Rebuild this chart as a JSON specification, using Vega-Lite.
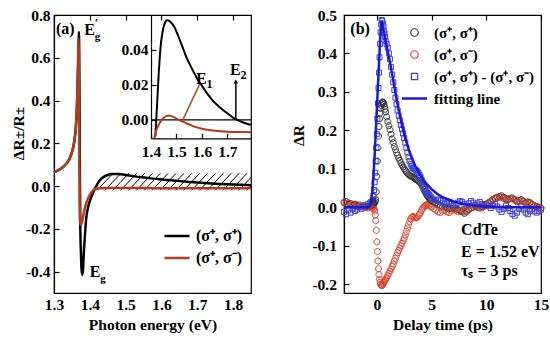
{
  "$schema": "https://vega.github.io/schema/vega-lite/v6.json",
  "background": "white",
  "padding": {"left": 10, "top": 7, "right": 2, "bottom": 2},
  "bounds": "flush",
  "spacing": 93,
  "resolve": {"scale": {"color": "independent", "shape": "independent"}, "legend": {"color": "independent", "shape": "independent"}},
  "config": {
    "view": {"stroke": "black", "strokeWidth": 1.2},
    "axis": {"labelFont": "Liberation Serif", "labelFontWeight": "bold", "labelFontSize": 15.5, "labelColor": "black", "titleFont": "Liberation Serif", "titleFontWeight": "bold", "titleFontSize": 15.5, "titleColor": "black", "domainColor": "black", "domainWidth": 1.2, "tickColor": "black", "tickWidth": 1.2, "ticks": false, "grid": true, "gridColor": "black", "gridOpacity": 1, "gridWidth": 1.2, "gridDash": [5, 2000], "labelFlush": false, "labelOverlap": false},
    "legend": {"labelFont": "Liberation Serif", "labelFontWeight": "bold", "labelColor": "black", "labelLimit": 300},
    "text": {"font": "Liberation Serif", "fontWeight": "bold", "fontSize": 16, "color": "black", "align": "left", "baseline": "alphabetic"}
  },
  "hconcat": [
    {
      "width": 197,
      "height": 278,
      "layer": [
        {
          "encoding": {
            "x": {"field": "x", "type": "quantitative", "scale": {"domain": [1.3, 1.85], "nice": false, "zero": false},
              "axis": {"values": [1.3, 1.4, 1.5, 1.6, 1.7, 1.8], "format": ".1f", "title": "Photon energy (eV)", "labelPadding": 4, "titleX": 98.5, "titleY": 24, "titleBaseline": "top"}},
            "y": {"field": "y", "type": "quantitative", "scale": {"domain": [-0.5, 0.8], "nice": false, "zero": false},
              "axis": {"values": [-0.4, -0.2, 0, 0.2, 0.4, 0.6, 0.8], "format": ".1f", "labelExpr": "replace(datum.label, '−', '-')", "title": "ΔR±/R±", "labelPadding": 4, "titleX": -28, "titleY": 118}}
          },
          "layer": [
            {
              "data": {"values": [
                {"x": 1.42, "x2": 1.465, "y": -0.02, "y2": 0.06},
                {"x": 1.442, "x2": 1.487, "y": -0.02, "y2": 0.06},
                {"x": 1.464, "x2": 1.509, "y": -0.02, "y2": 0.06},
                {"x": 1.486, "x2": 1.531, "y": -0.02, "y2": 0.06},
                {"x": 1.508, "x2": 1.553, "y": -0.02, "y2": 0.06},
                {"x": 1.53, "x2": 1.575, "y": -0.02, "y2": 0.06},
                {"x": 1.552, "x2": 1.597, "y": -0.02, "y2": 0.06},
                {"x": 1.574, "x2": 1.619, "y": -0.02, "y2": 0.06},
                {"x": 1.596, "x2": 1.641, "y": -0.02, "y2": 0.06},
                {"x": 1.618, "x2": 1.663, "y": -0.02, "y2": 0.06},
                {"x": 1.64, "x2": 1.685, "y": -0.02, "y2": 0.06},
                {"x": 1.662, "x2": 1.707, "y": -0.02, "y2": 0.06},
                {"x": 1.684, "x2": 1.729, "y": -0.02, "y2": 0.06},
                {"x": 1.706, "x2": 1.751, "y": -0.02, "y2": 0.06},
                {"x": 1.728, "x2": 1.773, "y": -0.02, "y2": 0.06},
                {"x": 1.75, "x2": 1.795, "y": -0.02, "y2": 0.06},
                {"x": 1.772, "x2": 1.817, "y": -0.02, "y2": 0.06},
                {"x": 1.794, "x2": 1.839, "y": -0.02, "y2": 0.06},
                {"x": 1.816, "x2": 1.861, "y": -0.02, "y2": 0.06},
                {"x": 1.838, "x2": 1.883, "y": -0.02, "y2": 0.06}
              ]},
              "mark": {"type": "rule", "color": "black", "strokeWidth": 1, "clip": true},
              "encoding": {"x2": {"field": "x2"}, "y2": {"field": "y2"}}
            },
            {
              "data": {"values": [
                {"s": "pp", "x": 1.3, "y": 0.065}, {"s": "pp", "x": 1.31, "y": 0.072}, {"s": "pp", "x": 1.32, "y": 0.082}, {"s": "pp", "x": 1.33, "y": 0.097}, {"s": "pp", "x": 1.34, "y": 0.118}, {"s": "pp", "x": 1.345, "y": 0.135}, {"s": "pp", "x": 1.35, "y": 0.158}, {"s": "pp", "x": 1.354, "y": 0.185}, {"s": "pp", "x": 1.358, "y": 0.225}, {"s": "pp", "x": 1.361, "y": 0.275}, {"s": "pp", "x": 1.363, "y": 0.33}, {"s": "pp", "x": 1.365, "y": 0.42}, {"s": "pp", "x": 1.367, "y": 0.55}, {"s": "pp", "x": 1.3685, "y": 0.66}, {"s": "pp", "x": 1.3695, "y": 0.72}, {"s": "pp", "x": 1.3705, "y": 0.6}, {"s": "pp", "x": 1.3715, "y": 0.3}, {"s": "pp", "x": 1.3725, "y": 0.0}, {"s": "pp", "x": 1.3735, "y": -0.2}, {"s": "pp", "x": 1.375, "y": -0.3}, {"s": "pp", "x": 1.377, "y": -0.39}, {"s": "pp", "x": 1.379, "y": -0.415}, {"s": "pp", "x": 1.381, "y": -0.39}, {"s": "pp", "x": 1.383, "y": -0.32}, {"s": "pp", "x": 1.386, "y": -0.24}, {"s": "pp", "x": 1.39, "y": -0.15}, {"s": "pp", "x": 1.395, "y": -0.1}, {"s": "pp", "x": 1.4, "y": -0.07}, {"s": "pp", "x": 1.405, "y": -0.047}, {"s": "pp", "x": 1.41, "y": -0.028}, {"s": "pp", "x": 1.415, "y": -0.01}, {"s": "pp", "x": 1.42, "y": 0.006}, {"s": "pp", "x": 1.425, "y": 0.02}, {"s": "pp", "x": 1.43, "y": 0.031}, {"s": "pp", "x": 1.44, "y": 0.044}, {"s": "pp", "x": 1.45, "y": 0.052}, {"s": "pp", "x": 1.46, "y": 0.056}, {"s": "pp", "x": 1.47, "y": 0.057}, {"s": "pp", "x": 1.48, "y": 0.056}, {"s": "pp", "x": 1.5, "y": 0.052}, {"s": "pp", "x": 1.52, "y": 0.047}, {"s": "pp", "x": 1.54, "y": 0.042}, {"s": "pp", "x": 1.57, "y": 0.036}, {"s": "pp", "x": 1.6, "y": 0.031}, {"s": "pp", "x": 1.64, "y": 0.025}, {"s": "pp", "x": 1.68, "y": 0.019}, {"s": "pp", "x": 1.72, "y": 0.014}, {"s": "pp", "x": 1.76, "y": 0.01}, {"s": "pp", "x": 1.8, "y": 0.007}, {"s": "pp", "x": 1.85, "y": 0.004},
                {"s": "pm", "x": 1.3, "y": 0.065}, {"s": "pm", "x": 1.31, "y": 0.072}, {"s": "pm", "x": 1.32, "y": 0.082}, {"s": "pm", "x": 1.33, "y": 0.097}, {"s": "pm", "x": 1.34, "y": 0.118}, {"s": "pm", "x": 1.345, "y": 0.135}, {"s": "pm", "x": 1.35, "y": 0.158}, {"s": "pm", "x": 1.354, "y": 0.185}, {"s": "pm", "x": 1.358, "y": 0.225}, {"s": "pm", "x": 1.361, "y": 0.275}, {"s": "pm", "x": 1.363, "y": 0.33}, {"s": "pm", "x": 1.365, "y": 0.42}, {"s": "pm", "x": 1.367, "y": 0.55}, {"s": "pm", "x": 1.3685, "y": 0.69}, {"s": "pm", "x": 1.3695, "y": 0.55}, {"s": "pm", "x": 1.3705, "y": 0.25}, {"s": "pm", "x": 1.3715, "y": -0.05}, {"s": "pm", "x": 1.3725, "y": -0.16}, {"s": "pm", "x": 1.374, "y": -0.18}, {"s": "pm", "x": 1.376, "y": -0.178}, {"s": "pm", "x": 1.379, "y": -0.16}, {"s": "pm", "x": 1.382, "y": -0.135}, {"s": "pm", "x": 1.386, "y": -0.105}, {"s": "pm", "x": 1.39, "y": -0.08}, {"s": "pm", "x": 1.395, "y": -0.058}, {"s": "pm", "x": 1.4, "y": -0.041}, {"s": "pm", "x": 1.405, "y": -0.028}, {"s": "pm", "x": 1.41, "y": -0.019}, {"s": "pm", "x": 1.415, "y": -0.013}, {"s": "pm", "x": 1.42, "y": -0.011}, {"s": "pm", "x": 1.43, "y": -0.01}, {"s": "pm", "x": 1.45, "y": -0.009}, {"s": "pm", "x": 1.5, "y": -0.009}, {"s": "pm", "x": 1.6, "y": -0.01}, {"s": "pm", "x": 1.7, "y": -0.01}, {"s": "pm", "x": 1.85, "y": -0.01}
              ]},
              "mark": {"type": "line", "strokeWidth": 2.5, "interpolate": "monotone"},
              "encoding": {
                "color": {"field": "s", "type": "nominal", "sort": null,
                  "scale": {"domain": ["pp", "pm"], "range": ["black", "#b33c1c"]},
                  "legend": {"title": null, "orient": "none", "legendX": 109, "legendY": 207, "padding": 0, "symbolType": "stroke", "symbolSize": 625, "symbolStrokeWidth": 2.5, "labelOffset": 5, "rowPadding": -2, "labelFontSize": 16,
                    "labelExpr": "datum.label == 'pp' ? '(σ⁺, σ⁺)' : '(σ⁺, σ⁻)'"}}
              }
            },
            {
              "data": {"values": [
                {"x": 1.3056, "y": 0.711, "label": "(a)"},
                {"x": 1.3844, "y": 0.7065, "label": "E"},
                {"x": 1.4, "y": -0.424, "label": "E"}
              ]},
              "mark": {"type": "text"},
              "encoding": {"text": {"field": "label"}}
            },
            {
              "data": {"values": [
                {"x": 1.3844, "y": 0.7065, "label": "g"},
                {"x": 1.4, "y": -0.424, "label": "g"}
              ]},
              "mark": {"type": "text", "fontSize": 11, "dx": 10.5, "dy": 5},
              "encoding": {"text": {"field": "label"}}
            },
            {
              "data": {"values": [
                {"x": 1.3844, "y": 0.7065, "label": "′"}
              ]},
              "mark": {"type": "text", "fontSize": 12, "dx": 10.5, "dy": -8},
              "encoding": {"text": {"field": "label"}}
            }
          ]
        },
        {
          "encoding": {
            "x": {"field": "x", "type": "quantitative", "scale": {"domain": [1.4, 1.7925], "range": [97, 197], "nice": false, "zero": false},
              "axis": {"orient": "bottom", "offset": -154.7, "values": [1.4, 1.5, 1.6, 1.7], "format": ".1f", "title": null, "grid": false, "ticks": true, "tickSize": -5, "labelPadding": 11.5}},
            "y": {"field": "y", "type": "quantitative", "scale": {"domain": [-0.0105, 0.06], "range": [123.3, 0], "nice": false, "zero": false},
              "axis": {"orient": "left", "offset": -97, "values": [0, 0.02, 0.04], "format": ".2f", "title": null, "grid": false, "ticks": true, "tickSize": -5, "labelPadding": 8}}
          },
          "layer": [
            {
              "data": {"values": [{"x": 1.4, "x2": 1.7925, "y": 0}]},
              "mark": {"type": "rule", "color": "black", "strokeWidth": 1.2},
              "encoding": {"x2": {"field": "x2"}}
            },
            {
              "data": {"values": [
                {"s": "pp", "x": 1.417, "y": -0.0095}, {"s": "pp", "x": 1.42, "y": -0.002}, {"s": "pp", "x": 1.425, "y": 0.012}, {"s": "pp", "x": 1.43, "y": 0.026}, {"s": "pp", "x": 1.435, "y": 0.037}, {"s": "pp", "x": 1.44, "y": 0.045}, {"s": "pp", "x": 1.445, "y": 0.05}, {"s": "pp", "x": 1.45, "y": 0.0535}, {"s": "pp", "x": 1.455, "y": 0.0555}, {"s": "pp", "x": 1.46, "y": 0.0568}, {"s": "pp", "x": 1.465, "y": 0.057}, {"s": "pp", "x": 1.47, "y": 0.0568}, {"s": "pp", "x": 1.48, "y": 0.0555}, {"s": "pp", "x": 1.49, "y": 0.0535}, {"s": "pp", "x": 1.5, "y": 0.0505}, {"s": "pp", "x": 1.52, "y": 0.043}, {"s": "pp", "x": 1.54, "y": 0.0355}, {"s": "pp", "x": 1.56, "y": 0.0295}, {"s": "pp", "x": 1.58, "y": 0.024}, {"s": "pp", "x": 1.6, "y": 0.0195}, {"s": "pp", "x": 1.62, "y": 0.0152}, {"s": "pp", "x": 1.64, "y": 0.0115}, {"s": "pp", "x": 1.66, "y": 0.0085}, {"s": "pp", "x": 1.68, "y": 0.006}, {"s": "pp", "x": 1.7, "y": 0.0038}, {"s": "pp", "x": 1.72, "y": 0.0015}, {"s": "pp", "x": 1.74, "y": -0.0001}, {"s": "pp", "x": 1.76, "y": -0.0013}, {"s": "pp", "x": 1.78, "y": -0.0023}, {"s": "pp", "x": 1.7925, "y": -0.0028},
                {"s": "pm", "x": 1.413, "y": -0.0104}, {"s": "pm", "x": 1.42, "y": -0.0065}, {"s": "pm", "x": 1.43, "y": -0.0029}, {"s": "pm", "x": 1.44, "y": -0.0003}, {"s": "pm", "x": 1.45, "y": 0.0013}, {"s": "pm", "x": 1.46, "y": 0.0022}, {"s": "pm", "x": 1.47, "y": 0.0025}, {"s": "pm", "x": 1.48, "y": 0.0022}, {"s": "pm", "x": 1.49, "y": 0.0016}, {"s": "pm", "x": 1.5, "y": 0.0008}, {"s": "pm", "x": 1.51, "y": 0.0}, {"s": "pm", "x": 1.53, "y": -0.0013}, {"s": "pm", "x": 1.55, "y": -0.0026}, {"s": "pm", "x": 1.57, "y": -0.0038}, {"s": "pm", "x": 1.6, "y": -0.005}, {"s": "pm", "x": 1.63, "y": -0.0058}, {"s": "pm", "x": 1.66, "y": -0.0063}, {"s": "pm", "x": 1.7, "y": -0.0067}, {"s": "pm", "x": 1.75, "y": -0.0069}, {"s": "pm", "x": 1.7925, "y": -0.007}
              ]},
              "mark": {"type": "line", "strokeWidth": 2, "interpolate": "monotone"},
              "encoding": {
                "color": {"field": "s", "type": "nominal", "sort": null, "scale": {"domain": ["pp", "pm"], "range": ["black", "#b33c1c"]}, "legend": null}
              }
            },
            {
              "data": {"values": [{"x": 1.525, "y": 0, "x2": 1.591, "y2": 0.0205}]},
              "mark": {"type": "rule", "color": "#b5461e", "strokeWidth": 1.5},
              "encoding": {"x2": {"field": "x2"}, "y2": {"field": "y2"}}
            },
            {
              "data": {"values": [{"x": 1.733, "y": 0, "y2": 0.021}]},
              "mark": {"type": "rule", "color": "black", "strokeWidth": 1.5},
              "encoding": {"y2": {"field": "y2"}}
            },
            {
              "data": {"values": [{"x": 1.733, "y": 0.022}]},
              "mark": {"type": "point", "shape": "triangle-up", "filled": true, "color": "black", "size": 22, "opacity": 1},
              "encoding": {}
            },
            {
              "data": {"values": [
                {"x": 1.5767, "y": 0.0206, "label": "E"},
                {"x": 1.71, "y": 0.0255, "label": "E"}
              ]},
              "mark": {"type": "text"},
              "encoding": {"text": {"field": "label"}}
            },
            {
              "data": {"values": [
                {"x": 1.5767, "y": 0.0206, "label": "1"},
                {"x": 1.71, "y": 0.0255, "label": "2"}
              ]},
              "mark": {"type": "text", "fontSize": 12, "dx": 10.5, "dy": 4},
              "encoding": {"text": {"field": "label"}}
            }
          ]
        }
      ],
      "resolve": {"scale": {"x": "independent", "y": "independent"}}
    },
    {
      "width": 197,
      "height": 278,
      "encoding": {
        "x": {"field": "t", "type": "quantitative", "scale": {"domain": [-3, 15], "nice": false, "zero": false},
          "axis": {"values": [0, 5, 10, 15], "title": "Delay time (ps)", "labelPadding": 4, "titleX": 98.5, "titleY": 24, "titleBaseline": "top"}},
        "y": {"field": "value", "type": "quantitative", "scale": {"domain": [-0.223, 0.5], "nice": false, "zero": false},
          "axis": {"values": [-0.2, -0.1, 0, 0.1, 0.2, 0.3, 0.4, 0.5], "format": ".1f", "labelExpr": "replace(datum.label, '−', '-')", "title": "ΔR", "labelPadding": 7.5, "titleX": -38, "titleY": 120}}
      },
      "layer": [
        {
          "data": {"values": [
            {"t": -3.0, "a": 0.012, "b": 0.014, "d": -0.012},
            {"t": -2.8, "a": 0.015, "b": 0.01, "d": -0.018},
            {"t": -2.6, "a": 0.008, "b": 0.012, "d": -0.008},
            {"t": -2.4, "a": 0.01, "b": 0.006, "d": -0.014},
            {"t": -2.2, "a": 0.005, "b": 0.008, "d": -0.004},
            {"t": -2.0, "a": 0.008, "b": 0.004, "d": -0.01},
            {"t": -1.8, "a": 0.004, "b": 0.006, "d": -0.006},
            {"t": -1.6, "a": 0.006, "b": 0.002, "d": 0.0},
            {"t": -1.4, "a": 0.002, "b": 0.004, "d": -0.004},
            {"t": -1.2, "a": 0.004, "b": 0.0, "d": 0.004},
            {"t": -1.0, "a": 0.0, "b": 0.003, "d": 0.002},
            {"t": -0.8, "a": 0.002, "b": -0.002, "d": 0.008},
            {"t": -0.6, "a": 0.004, "b": 0.0, "d": 0.012},
            {"t": -0.5, "a": 0.004, "b": 0.0, "d": 0.014},
            {"t": -0.4, "a": 0.005, "b": 0.0, "d": 0.015},
            {"t": -0.35, "a": 0.006, "b": 0.0, "d": 0.02},
            {"t": -0.3, "a": 0.008, "b": -0.002, "d": 0.03},
            {"t": -0.25, "a": 0.01, "b": -0.005, "d": 0.045},
            {"t": -0.2, "a": 0.012, "b": -0.01, "d": 0.065},
            {"t": -0.15, "a": 0.015, "b": -0.02, "d": 0.09},
            {"t": -0.1, "a": 0.02, "b": -0.035, "d": 0.12},
            {"t": -0.05, "a": 0.04, "b": -0.06, "d": 0.155},
            {"t": 0.0, "a": 0.08, "b": -0.09, "d": 0.19},
            {"t": 0.05, "a": 0.12, "b": -0.115, "d": 0.23},
            {"t": 0.1, "a": 0.155, "b": -0.14, "d": 0.27},
            {"t": 0.15, "a": 0.185, "b": -0.16, "d": 0.31},
            {"t": 0.2, "a": 0.21, "b": -0.175, "d": 0.35},
            {"t": 0.25, "a": 0.23, "b": -0.187, "d": 0.39},
            {"t": 0.3, "a": 0.245, "b": -0.195, "d": 0.425},
            {"t": 0.35, "a": 0.257, "b": -0.2, "d": 0.455},
            {"t": 0.4, "a": 0.265, "b": -0.203, "d": 0.475},
            {"t": 0.45, "a": 0.27, "b": -0.204, "d": 0.487},
            {"t": 0.5, "a": 0.273, "b": -0.203, "d": 0.485},
            {"t": 0.55, "a": 0.274, "b": -0.2, "d": 0.478},
            {"t": 0.6, "a": 0.272, "b": -0.198, "d": 0.47},
            {"t": 0.65, "a": 0.268, "b": -0.195, "d": 0.46},
            {"t": 0.7, "a": 0.262, "b": -0.193, "d": 0.452},
            {"t": 0.75, "a": 0.255, "b": -0.19, "d": 0.443},
            {"t": 0.8, "a": 0.248, "b": -0.187, "d": 0.433},
            {"t": 0.9, "a": 0.235, "b": -0.183, "d": 0.425},
            {"t": 1.0, "a": 0.223, "b": -0.178, "d": 0.415},
            {"t": 1.1, "a": 0.212, "b": -0.172, "d": 0.4},
            {"t": 1.2, "a": 0.202, "b": -0.166, "d": 0.385},
            {"t": 1.3, "a": 0.19, "b": -0.16, "d": 0.365},
            {"t": 1.4, "a": 0.178, "b": -0.154, "d": 0.345},
            {"t": 1.5, "a": 0.168, "b": -0.148, "d": 0.325},
            {"t": 1.6, "a": 0.158, "b": -0.14, "d": 0.305},
            {"t": 1.7, "a": 0.15, "b": -0.133, "d": 0.285},
            {"t": 1.8, "a": 0.142, "b": -0.125, "d": 0.268},
            {"t": 1.9, "a": 0.135, "b": -0.118, "d": 0.252},
            {"t": 2.0, "a": 0.128, "b": -0.112, "d": 0.238},
            {"t": 2.1, "a": 0.122, "b": -0.106, "d": 0.226},
            {"t": 2.2, "a": 0.116, "b": -0.1, "d": 0.214},
            {"t": 2.3, "a": 0.11, "b": -0.094, "d": 0.203},
            {"t": 2.4, "a": 0.105, "b": -0.087, "d": 0.192},
            {"t": 2.5, "a": 0.1, "b": -0.08, "d": 0.18},
            {"t": 2.6, "a": 0.096, "b": -0.072, "d": 0.168},
            {"t": 2.7, "a": 0.092, "b": -0.063, "d": 0.155},
            {"t": 2.8, "a": 0.088, "b": -0.054, "d": 0.142},
            {"t": 2.9, "a": 0.085, "b": -0.045, "d": 0.13},
            {"t": 3.0, "a": 0.083, "b": -0.037, "d": 0.12},
            {"t": 3.1, "a": 0.081, "b": -0.03, "d": 0.112},
            {"t": 3.2, "a": 0.08, "b": -0.026, "d": 0.106},
            {"t": 3.3, "a": 0.078, "b": -0.024, "d": 0.102},
            {"t": 3.4, "a": 0.076, "b": -0.025, "d": 0.1},
            {"t": 3.5, "a": 0.074, "b": -0.027, "d": 0.098},
            {"t": 3.6, "a": 0.072, "b": -0.028, "d": 0.096},
            {"t": 3.7, "a": 0.07, "b": -0.026, "d": 0.093},
            {"t": 3.8, "a": 0.068, "b": -0.022, "d": 0.089},
            {"t": 3.9, "a": 0.066, "b": -0.018, "d": 0.084},
            {"t": 4.0, "a": 0.063, "b": -0.014, "d": 0.078},
            {"t": 4.1, "a": 0.058, "b": -0.008, "d": 0.07},
            {"t": 4.2, "a": 0.052, "b": -0.003, "d": 0.062},
            {"t": 4.3, "a": 0.046, "b": 0.001, "d": 0.055},
            {"t": 4.4, "a": 0.04, "b": 0.004, "d": 0.048},
            {"t": 4.5, "a": 0.035, "b": 0.006, "d": 0.042},
            {"t": 4.6, "a": 0.03, "b": 0.007, "d": 0.038},
            {"t": 4.7, "a": 0.026, "b": 0.006, "d": 0.035},
            {"t": 4.8, "a": 0.022, "b": 0.004, "d": 0.032},
            {"t": 4.9, "a": 0.019, "b": 0.002, "d": 0.028},
            {"t": 5.0, "a": 0.017, "b": 0.0, "d": 0.024},
            {"t": 5.2, "a": 0.014, "b": -0.004, "d": 0.02},
            {"t": 5.4, "a": 0.011, "b": -0.008, "d": 0.018},
            {"t": 5.6, "a": 0.008, "b": -0.012, "d": 0.02},
            {"t": 5.8, "a": 0.005, "b": -0.014, "d": 0.017},
            {"t": 6.0, "a": 0.002, "b": -0.01, "d": 0.012},
            {"t": 6.2, "a": 0.0, "b": -0.008, "d": 0.008},
            {"t": 6.4, "a": -0.002, "b": -0.012, "d": 0.012},
            {"t": 6.6, "a": -0.004, "b": -0.014, "d": 0.014},
            {"t": 6.8, "a": -0.003, "b": -0.01, "d": 0.01},
            {"t": 7.0, "a": -0.002, "b": -0.006, "d": 0.004},
            {"t": 7.2, "a": -0.004, "b": -0.008, "d": 0.006},
            {"t": 7.4, "a": -0.006, "b": -0.012, "d": 0.012},
            {"t": 7.6, "a": -0.008, "b": -0.01, "d": 0.016},
            {"t": 7.8, "a": -0.012, "b": -0.008, "d": 0.014},
            {"t": 8.0, "a": -0.016, "b": -0.012, "d": 0.008},
            {"t": 8.2, "a": -0.012, "b": -0.008, "d": 0.004},
            {"t": 8.4, "a": -0.006, "b": -0.004, "d": 0.01},
            {"t": 8.6, "a": -0.002, "b": -0.002, "d": 0.016},
            {"t": 8.8, "a": 0.0, "b": 0.0, "d": 0.012},
            {"t": 9.0, "a": 0.002, "b": 0.002, "d": 0.006},
            {"t": 9.2, "a": 0.0, "b": 0.004, "d": 0.01},
            {"t": 9.4, "a": -0.002, "b": 0.0, "d": 0.014},
            {"t": 9.6, "a": 0.002, "b": -0.002, "d": 0.008},
            {"t": 9.8, "a": 0.006, "b": 0.002, "d": 0.004},
            {"t": 10.0, "a": 0.008, "b": 0.006, "d": 0.008},
            {"t": 10.2, "a": 0.012, "b": 0.01, "d": 0.004},
            {"t": 10.4, "a": 0.016, "b": 0.014, "d": -0.002},
            {"t": 10.6, "a": 0.02, "b": 0.018, "d": 0.004},
            {"t": 10.8, "a": 0.024, "b": 0.022, "d": 0.008},
            {"t": 11.0, "a": 0.026, "b": 0.024, "d": 0.002},
            {"t": 11.2, "a": 0.028, "b": 0.026, "d": -0.006},
            {"t": 11.4, "a": 0.03, "b": 0.026, "d": -0.012},
            {"t": 11.6, "a": 0.026, "b": 0.022, "d": -0.004},
            {"t": 11.8, "a": 0.022, "b": 0.02, "d": 0.004},
            {"t": 12.0, "a": 0.02, "b": 0.022, "d": -0.002},
            {"t": 12.2, "a": 0.022, "b": 0.024, "d": -0.01},
            {"t": 12.4, "a": 0.024, "b": 0.022, "d": -0.018},
            {"t": 12.6, "a": 0.02, "b": 0.018, "d": -0.022},
            {"t": 12.8, "a": 0.016, "b": 0.014, "d": -0.014},
            {"t": 13.0, "a": 0.018, "b": 0.016, "d": -0.004},
            {"t": 13.2, "a": 0.02, "b": 0.018, "d": 0.002},
            {"t": 13.4, "a": 0.016, "b": 0.014, "d": -0.006},
            {"t": 13.6, "a": 0.012, "b": 0.01, "d": -0.014},
            {"t": 13.8, "a": 0.014, "b": 0.012, "d": -0.018},
            {"t": 14.0, "a": 0.012, "b": 0.01, "d": -0.01},
            {"t": 14.2, "a": 0.008, "b": 0.006, "d": -0.004},
            {"t": 14.4, "a": 0.004, "b": 0.004, "d": -0.01},
            {"t": 14.6, "a": 0.002, "b": 0.0, "d": -0.014},
            {"t": 14.8, "a": 0.0, "b": -0.002, "d": -0.01},
            {"t": 15.0, "a": -0.002, "b": -0.002, "d": -0.006}
          ]},
          "transform": [{"fold": ["a", "b", "d"]}],
          "mark": {"type": "point", "filled": false, "strokeWidth": 1, "size": 400, "opacity": 1},
          "encoding": {
            "color": {"field": "key", "type": "nominal", "sort": null,
              "scale": {"domain": ["a", "b", "d", "fit"], "range": ["#333333", "#d9432b", "#3c3ce0", "#1818d8"]},
              "legend": {"title": null, "orient": "none", "legendX": 57, "legendY": 4, "padding": 0, "symbolSize": 625, "symbolStrokeWidth": 1.2, "labelOffset": 6, "rowPadding": -3, "labelFontSize": 15,
                "labelExpr": "datum.label == 'a' ? '(σ⁺, σ⁺)' : datum.label == 'b' ? '(σ⁺, σ⁻)' : datum.label == 'd' ? '(σ⁺, σ⁺) - (σ⁺, σ⁻)' : 'fitting line'"}},
            "shape": {"field": "key", "type": "nominal", "sort": null,
              "scale": {"domain": ["a", "b", "d", "fit"], "range": ["M0.3,0A0.3,0.3 0 1,1 -0.3,0A0.3,0.3 0 1,1 0.3,0Z", "M0.3,0A0.3,0.3 0 1,1 -0.3,0A0.3,0.3 0 1,1 0.3,0Z", "M-0.25,-0.25H0.25V0.25H-0.25Z", "M-1,-0.05H1M-1,0H1M-1,0.05H1"]},
              "legend": {"title": null, "orient": "none", "legendX": 57, "legendY": 4, "padding": 0, "symbolSize": 625, "symbolStrokeWidth": 1.2, "labelOffset": 6, "rowPadding": -3, "labelFontSize": 15,
                "labelExpr": "datum.label == 'a' ? '(σ⁺, σ⁺)' : datum.label == 'b' ? '(σ⁺, σ⁻)' : datum.label == 'd' ? '(σ⁺, σ⁺) - (σ⁺, σ⁻)' : 'fitting line'"}}
          }
        },
        {
          "data": {"values": [
            {"t": -3.0, "value": 0.0}, {"t": -2.0, "value": 0.0}, {"t": -1.0, "value": 0.0}, {"t": -0.7, "value": 0.0}, {"t": -0.6, "value": 0.006}, {"t": -0.5, "value": 0.02}, {"t": -0.4, "value": 0.045}, {"t": -0.3, "value": 0.085}, {"t": -0.2, "value": 0.135}, {"t": -0.1, "value": 0.195}, {"t": 0.0, "value": 0.255}, {"t": 0.1, "value": 0.315}, {"t": 0.2, "value": 0.375}, {"t": 0.3, "value": 0.435}, {"t": 0.4, "value": 0.485}, {"t": 0.5, "value": 0.478}, {"t": 0.6, "value": 0.462}, {"t": 0.8, "value": 0.432}, {"t": 1.0, "value": 0.405}, {"t": 1.25, "value": 0.37}, {"t": 1.5, "value": 0.33}, {"t": 1.75, "value": 0.29}, {"t": 2.0, "value": 0.252}, {"t": 2.25, "value": 0.22}, {"t": 2.5, "value": 0.19}, {"t": 2.75, "value": 0.165}, {"t": 3.0, "value": 0.143}, {"t": 3.5, "value": 0.108}, {"t": 4.0, "value": 0.082}, {"t": 4.5, "value": 0.062}, {"t": 5.0, "value": 0.047}, {"t": 5.5, "value": 0.035}, {"t": 6.0, "value": 0.026}, {"t": 7.0, "value": 0.015}, {"t": 8.0, "value": 0.008}, {"t": 9.0, "value": 0.004}, {"t": 10.0, "value": 0.002}, {"t": 12.0, "value": 0.0}, {"t": 15.0, "value": 0.0}
          ]},
          "mark": {"type": "line", "strokeWidth": 2.5},
          "encoding": {
            "color": {"datum": "fit", "type": "nominal"}
          }
        },
        {
          "data": {"values": [
            {"t": -2.42, "value": 0.45, "label": "(b)"},
            {"t": 7.7, "value": -0.072, "label": "CdTe"},
            {"t": 7.7, "value": -0.129, "label": "E = 1.52 eV"},
            {"t": 7.7, "value": -0.179, "label": "τₛ = 3 ps"}
          ]},
          "mark": {"type": "text"},
          "encoding": {"text": {"field": "label"}}
        }
      ]
    }
  ]
}
